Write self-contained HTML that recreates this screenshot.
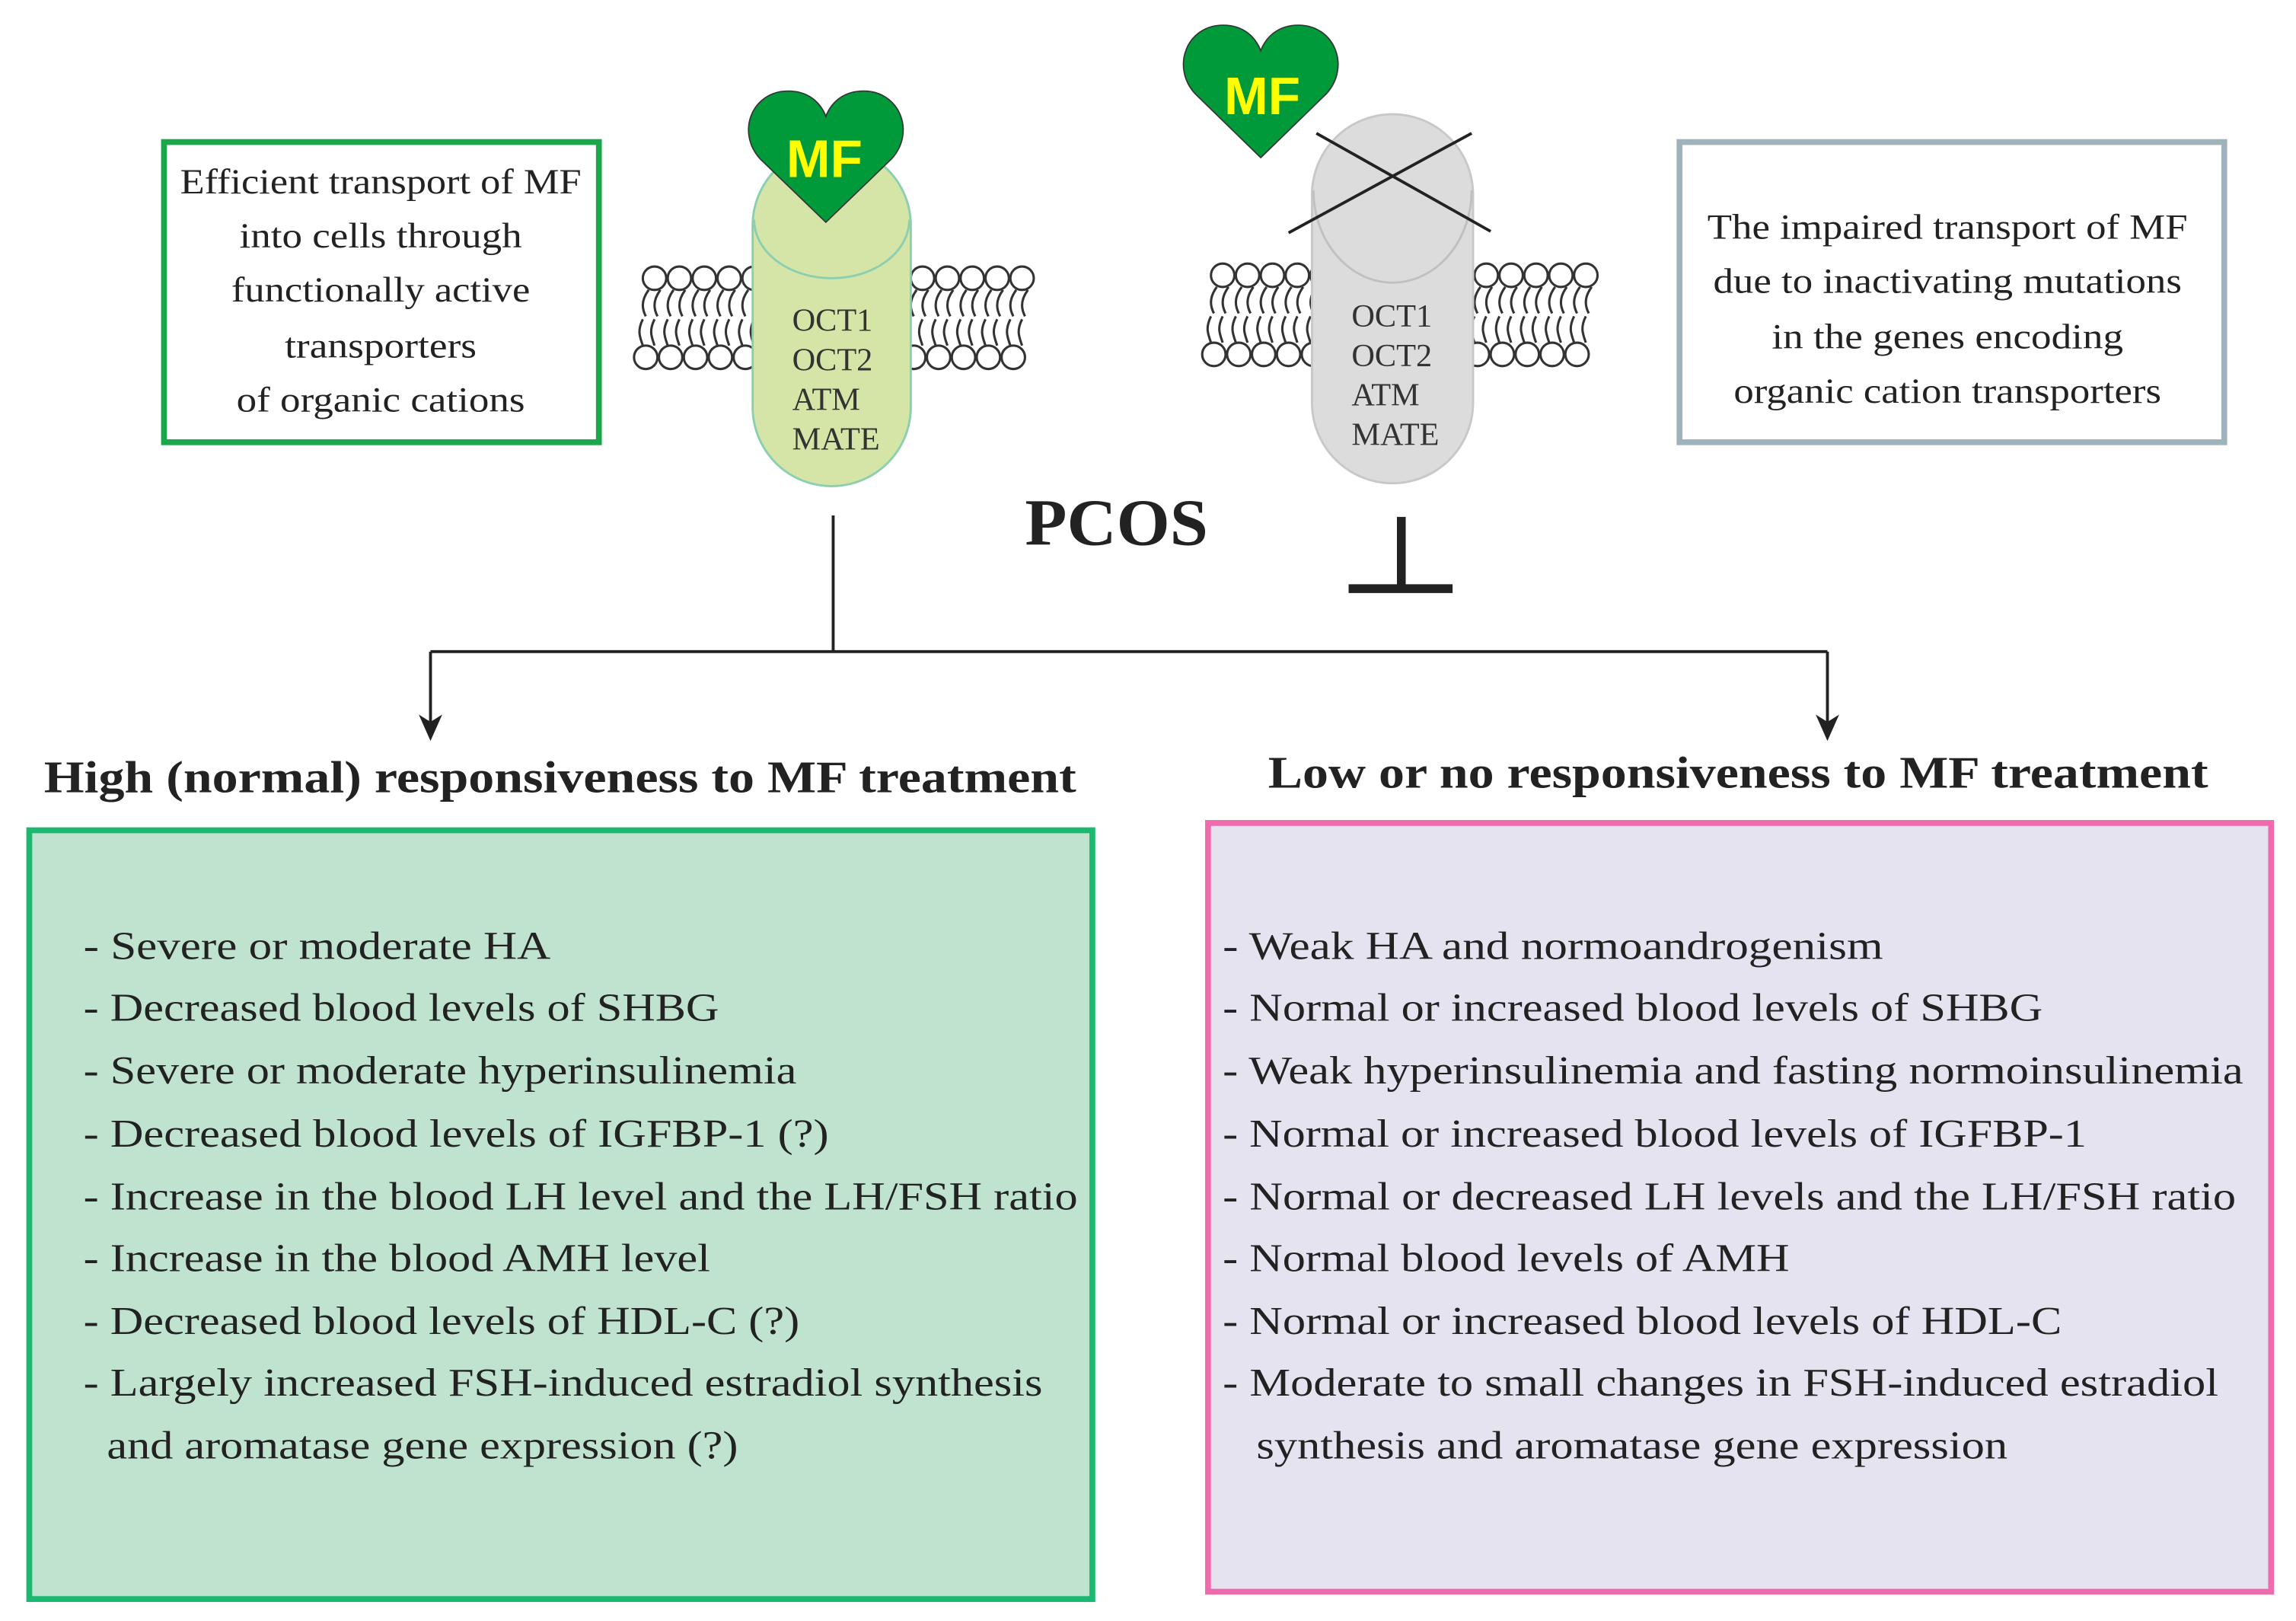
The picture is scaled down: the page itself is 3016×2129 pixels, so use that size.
<!DOCTYPE html>
<html><head><meta charset="utf-8"><style>
html,body{margin:0;padding:0;background:#fff}
svg{display:block}
text{font-family:"Liberation Serif",serif;fill:#222}
.l{font-size:27px}
.t{font-size:24px;text-anchor:middle}
.o{font-size:22px;fill:#333}
.h{font-size:31px;font-weight:bold}
.mf{font-family:"Liberation Sans",sans-serif;font-weight:bold;font-size:36px;fill:#ffff00;text-anchor:middle}
</style></head><body>
<svg width="3016" height="2129" viewBox="0 0 1568 1107" preserveAspectRatio="none" xmlns="http://www.w3.org/2000/svg">
<defs>
<g id="lip" fill="none" stroke="#333" stroke-width="1.6">
<circle cx="0" cy="0" r="8" fill="#fff"/>
<path d="M-4,8 C-10,16 -8,22 -6,26 M4,8 C-2,16 0,22 2,26"/>
<path d="M-8,28 C-12,36 -10,40 -8,46 M0,28 C-4,36 -2,40 0,46"/>
<circle cx="-6" cy="54" r="8" fill="#fff"/>
</g>
<g id="memL"><use href="#lip" x="0"/><use href="#lip" x="17"/><use href="#lip" x="34"/><use href="#lip" x="51"/><use href="#lip" x="68"/></g>
</defs>

<!-- left text box -->
<rect x="112" y="97" width="297" height="205" fill="#fff" stroke="#1aa64a" stroke-width="4"/>
<text class="t" x="260" y="132" textLength="274" lengthAdjust="spacingAndGlyphs">Efficient transport of MF</text>
<text class="t" x="260" y="169" textLength="193" lengthAdjust="spacingAndGlyphs">into cells through</text>
<text class="t" x="260" y="206" textLength="204" lengthAdjust="spacingAndGlyphs">functionally active</text>
<text class="t" x="260" y="244" textLength="131" lengthAdjust="spacingAndGlyphs">transporters</text>
<text class="t" x="260" y="281" textLength="197" lengthAdjust="spacingAndGlyphs">of organic cations</text>

<!-- right text box -->
<rect x="1147" y="97" width="372" height="205" fill="#fff" stroke="#9fb3bd" stroke-width="4"/>
<text class="t" x="1330" y="163" textLength="328" lengthAdjust="spacingAndGlyphs">The impaired transport of MF</text>
<text class="t" x="1330" y="200" textLength="320" lengthAdjust="spacingAndGlyphs">due to inactivating mutations</text>
<text class="t" x="1330" y="238" textLength="240" lengthAdjust="spacingAndGlyphs">in the genes encoding</text>
<text class="t" x="1330" y="275" textLength="292" lengthAdjust="spacingAndGlyphs">organic cation transporters</text>

<!-- left membrane -->
<use href="#memL" x="447" y="190"/>
<use href="#memL" x="630" y="190"/>
<!-- left capsule -->
<rect x="514" y="100" width="108" height="232" rx="54" fill="#d5e5a7" stroke="#8ccfb0" stroke-width="1.5"/>
<path d="M515,150 A53,40 0 0 0 621,150" fill="none" stroke="#8ccfb0" stroke-width="1.5"/>
<text class="o" x="541" y="226">OCT1</text>
<text class="o" x="541" y="253">OCT2</text>
<text class="o" x="541" y="280">ATM</text>
<text class="o" x="541" y="307">MATE</text>
<path transform="translate(508,60) scale(1.12,1.08)" d="M50,85 L10,45 C-5,28 5,2 27,2 C40,2 47,10 50,18 C53,10 60,2 73,2 C95,2 105,28 90,45 Z" fill="#009a3a" stroke="#333" stroke-width="0.8"/>
<text class="mf" x="563" y="121">MF</text>

<!-- right membrane -->
<use href="#memL" x="835" y="188"/>
<use href="#memL" x="1015" y="188"/>
<rect x="896" y="78" width="110" height="252" rx="55" fill="#dcdcdc" stroke="#c8c8c8" stroke-width="1.5"/>
<path d="M897,130 A54,63 0 0 0 1005,130" fill="none" stroke="#c0c0c0" stroke-width="1.5"/>
<text class="o" x="923" y="223">OCT1</text>
<text class="o" x="923" y="250">OCT2</text>
<text class="o" x="923" y="277">ATM</text>
<text class="o" x="923" y="304">MATE</text>
<path transform="translate(805,15) scale(1.12,1.09)" d="M50,85 L10,45 C-5,28 5,2 27,2 C40,2 47,10 50,18 C53,10 60,2 73,2 C95,2 105,28 90,45 Z" fill="#009a3a" stroke="#333" stroke-width="0.8"/>
<text class="mf" x="862" y="78">MF</text>
<line x1="880" y1="159" x2="1005" y2="91" stroke="#222" stroke-width="2"/>
<line x1="899" y1="91" x2="1018" y2="158" stroke="#222" stroke-width="2"/>

<text x="700" y="372" style="font-size:45px;font-weight:bold" textLength="125" lengthAdjust="spacingAndGlyphs">PCOS</text>

<!-- T bar -->
<rect x="954" y="353" width="6" height="50" fill="#222"/>
<rect x="921" y="399" width="71" height="6" fill="#222"/>

<!-- connectors -->
<g stroke="#222" stroke-width="2" fill="none">
<line x1="569" y1="352" x2="569" y2="445"/>
<line x1="294" y1="445" x2="1248" y2="445"/>
<line x1="294" y1="445" x2="294" y2="495"/>
<line x1="1248" y1="445" x2="1248" y2="495"/>
</g>
<path d="M286,488 L294,506 L302,488 L294,493 Z" fill="#222"/>
<path d="M1240,488 L1248,506 L1256,488 L1248,493 Z" fill="#222"/>

<text class="h" x="30" y="541" textLength="705" lengthAdjust="spacingAndGlyphs">High (normal) responsiveness to MF treatment</text>
<text class="h" x="866" y="538" textLength="642" lengthAdjust="spacingAndGlyphs">Low or no responsiveness to MF treatment</text>

<rect x="20" y="567" width="726" height="525" fill="#bfe3cf" stroke="#1ab870" stroke-width="4"/>
<rect x="825" y="562" width="726" height="525" fill="#e6e3f1" stroke="#f06aae" stroke-width="4"/>

<g class="l">
<text class="l" x="57" y="655" textLength="319" lengthAdjust="spacingAndGlyphs">-  Severe or moderate HA</text>
<text class="l" x="57" y="697" textLength="434" lengthAdjust="spacingAndGlyphs">- Decreased blood levels of SHBG</text>
<text class="l" x="57" y="740" textLength="487" lengthAdjust="spacingAndGlyphs">- Severe or moderate hyperinsulinemia</text>
<text class="l" x="57" y="783" textLength="509" lengthAdjust="spacingAndGlyphs">- Decreased blood levels of IGFBP-1 (?)</text>
<text class="l" x="57" y="826" textLength="679" lengthAdjust="spacingAndGlyphs">- Increase in the blood LH level and the LH/FSH ratio</text>
<text class="l" x="57" y="868" textLength="428" lengthAdjust="spacingAndGlyphs">- Increase in the blood AMH level</text>
<text class="l" x="57" y="911" textLength="489" lengthAdjust="spacingAndGlyphs">- Decreased blood levels of HDL-C (?)</text>
<text class="l" x="57" y="953" textLength="655" lengthAdjust="spacingAndGlyphs">- Largely increased FSH-induced estradiol synthesis</text>
<text class="l" x="73" y="996" textLength="431" lengthAdjust="spacingAndGlyphs">and aromatase gene expression (?)</text>

<text class="l" x="835" y="655" textLength="451" lengthAdjust="spacingAndGlyphs">-  Weak HA and normoandrogenism</text>
<text class="l" x="835" y="697" textLength="560" lengthAdjust="spacingAndGlyphs">- Normal or increased blood levels of SHBG</text>
<text class="l" x="835" y="740" textLength="697" lengthAdjust="spacingAndGlyphs">- Weak hyperinsulinemia and fasting normoinsulinemia</text>
<text class="l" x="835" y="783" textLength="590" lengthAdjust="spacingAndGlyphs">- Normal or increased blood levels of IGFBP-1</text>
<text class="l" x="835" y="826" textLength="692" lengthAdjust="spacingAndGlyphs">- Normal or decreased LH levels and the LH/FSH ratio</text>
<text class="l" x="835" y="868" textLength="387" lengthAdjust="spacingAndGlyphs">- Normal blood levels of AMH</text>
<text class="l" x="835" y="911" textLength="573" lengthAdjust="spacingAndGlyphs">- Normal or increased blood levels of HDL-C</text>
<text class="l" x="835" y="953" textLength="680" lengthAdjust="spacingAndGlyphs">- Moderate to small changes in FSH-induced estradiol</text>
<text class="l" x="858" y="996" textLength="513" lengthAdjust="spacingAndGlyphs">synthesis and aromatase gene expression</text>
</g>
</svg>
</body></html>
